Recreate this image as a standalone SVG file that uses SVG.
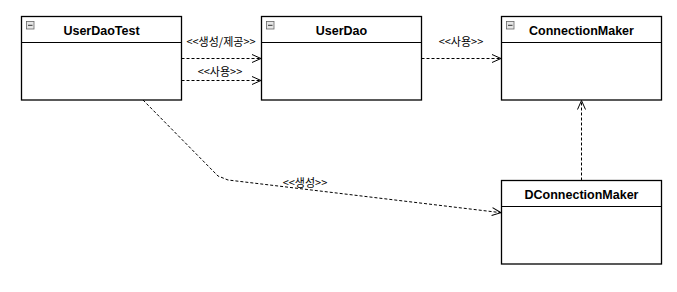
<svg xmlns="http://www.w3.org/2000/svg" width="677" height="292" viewBox="0 0 677 292">
<style>
.box{fill:#fff;stroke:#000;stroke-width:1.3}
.sep{stroke:#000;stroke-width:1.2}
.title{font-family:"Liberation Sans",Arial,sans-serif;font-size:12.5px;font-weight:bold;text-anchor:middle;fill:#000}
.icon{fill:#e6e6e6;stroke:#666;stroke-width:0.8}
.iconm{stroke:#333;stroke-width:1}
.edge{fill:none;stroke:#000;stroke-width:1;stroke-dasharray:3,2}
.lbl{font-family:"Noto Sans CJK KR","Liberation Sans",sans-serif;font-size:11px;text-anchor:middle;fill:#000}
</style>
<defs>
<marker id="open" markerWidth="12" markerHeight="12" refX="10" refY="5" orient="auto" markerUnits="userSpaceOnUse">
<path d="M1,1 L10,5 L1,9" fill="none" stroke="#000" stroke-width="1"/>
</marker>
</defs>
<rect width="677" height="292" fill="#fff"/>
<g id="UserDaoTest">
<rect class="box" x="21.5" y="16.5" width="160" height="83.5"/>
<line class="sep" x1="21.5" y1="42.5" x2="181.5" y2="42.5"/>
<rect class="icon" x="26.5" y="21.5" width="7.5" height="7.5"/>
<line class="iconm" x1="28" y1="25.3" x2="32.5" y2="25.3"/>
<text class="title" x="101.5" y="35">UserDaoTest</text>
</g>
<g id="UserDao">
<rect class="box" x="261.5" y="16.5" width="160" height="83.5"/>
<line class="sep" x1="261.5" y1="42.5" x2="421.5" y2="42.5"/>
<rect class="icon" x="266.5" y="21.5" width="7.5" height="7.5"/>
<line class="iconm" x1="268" y1="25.3" x2="272.5" y2="25.3"/>
<text class="title" x="341.5" y="35">UserDao</text>
</g>
<g id="ConnectionMaker">
<rect class="box" x="501.5" y="16.5" width="160" height="83.5"/>
<line class="sep" x1="501.5" y1="42.5" x2="661.5" y2="42.5"/>
<rect class="icon" x="506.5" y="21.5" width="7.5" height="7.5"/>
<line class="iconm" x1="508" y1="25.3" x2="512.5" y2="25.3"/>
<text class="title" x="581.5" y="35">ConnectionMaker</text>
</g>
<g id="DConnectionMaker">
<rect class="box" x="501.5" y="180.5" width="160" height="83.5"/>
<line class="sep" x1="501.5" y1="206.5" x2="661.5" y2="206.5"/>
<text class="title" x="581.5" y="199">DConnectionMaker</text>
</g>
<g id="connectors">
<line class="edge" x1="181.5" y1="58.5" x2="261" y2="58.5" marker-end="url(#open)"/>
<line class="edge" x1="181.5" y1="80.5" x2="261" y2="80.5" marker-end="url(#open)"/>
<line class="edge" x1="421.5" y1="58.5" x2="501" y2="58.5" marker-end="url(#open)"/>
<line class="edge" x1="581.5" y1="180.5" x2="581.5" y2="100.5" marker-end="url(#open)"/>
<polyline class="edge" points="143,100 218,176 228,180 501,212.7" marker-end="url(#open)"/>
<text class="lbl" x="221" y="45.5">&lt;&lt;생성/제공&gt;&gt;</text>
<text class="lbl" x="220" y="76">&lt;&lt;사용&gt;&gt;</text>
<text class="lbl" x="461" y="45.5">&lt;&lt;사용&gt;&gt;</text>
<text class="lbl" x="305" y="186.5">&lt;&lt;생성&gt;&gt;</text>
</g>
</svg>
